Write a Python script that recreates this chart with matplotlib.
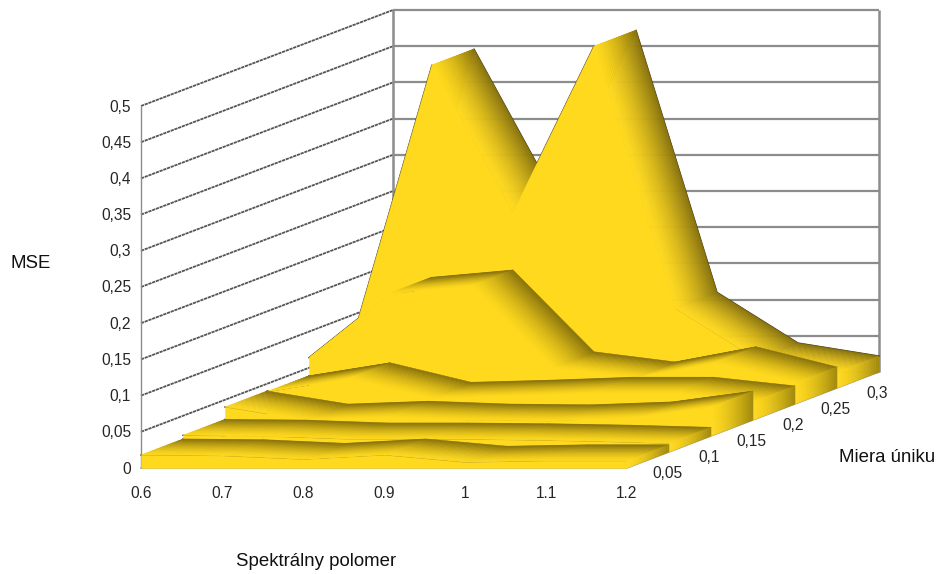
import matplotlib
matplotlib.use('Agg')
import matplotlib.pyplot as plt
from matplotlib.collections import PolyCollection
import numpy as np

plt.rcParams['font.family'] = ['Liberation Sans', 'DejaVu Sans']

spectral_radius = [0.6, 0.7, 0.8, 0.9, 1.0, 1.1, 1.2]
spectral_labels = ['0.6', '0.7', '0.8', '0.9', '1', '1.1', '1.2']
leak_labels = ['0,05', '0,1', '0,15', '0,2', '0,25', '0,3']
mse_ticks = [0, 0.05, 0.1, 0.15, 0.2, 0.25, 0.3, 0.35, 0.4, 0.45, 0.5]
mse_labels = ['0', '0,05', '0,1', '0,15', '0,2', '0,25', '0,3', '0,35', '0,4', '0,45', '0,5']

mse_005 = [0.018, 0.017, 0.012, 0.018, 0.008, 0.010, 0.010]
mse_010 = [0.023, 0.022, 0.018, 0.018, 0.017, 0.015, 0.012]
mse_015 = [0.040, 0.022, 0.026, 0.022, 0.021, 0.025, 0.040]
mse_020 = [0.039, 0.057, 0.030, 0.033, 0.037, 0.037, 0.025]
mse_025 = [0.064, 0.153, 0.163, 0.050, 0.036, 0.057, 0.029]
mse_030 = [0.060, 0.446, 0.242, 0.472, 0.110, 0.040, 0.022]
series = [mse_005, mse_010, mse_015, mse_020, mse_025, mse_030]

BRIGHT = np.array([255, 217, 30]) / 255
DARK = np.array([136, 114, 12]) / 255
END_DARK = np.array([160, 136, 14]) / 255
STRIPS = 24


def project(x, depth, z):
    # oblique projection of (spectral radius, depth 0-1, mse) to pixels
    px = 141 + 486 * (np.asarray(x, float) - 0.6) / 0.6 + 252 * np.asarray(depth, float)
    py = 468 - 724 * np.asarray(z, float) - 96 * np.asarray(depth, float)
    return np.column_stack([px, py]) if np.ndim(px) else (float(px), float(py))


def shaded_quad(ax, xa, xb, za, zb, d0, d1, dark, order):
    # strip-by-strip gradient, bright at the front edge and dark at the back
    ts = np.linspace(0, 1, STRIPS + 1)
    polys = []
    colors = []
    for a, b in zip(ts[:-1], ts[1:]):
        da = d0 + (d1 - d0) * a
        db = d0 + (d1 - d0) * b
        polys.append([project(xa, da, za), project(xb, da, zb),
                      project(xb, db, zb), project(xa, db, za)])
        colors.append(BRIGHT + (dark - BRIGHT) * ((a + b) / 2) ** 1.5)
    ax.add_collection(PolyCollection(polys, facecolors=colors, edgecolors=colors,
                                     linewidths=0.4, zorder=order))


fig = plt.figure(figsize=(9.38, 5.74), dpi=100)
ax = fig.add_axes([0, 0, 1, 1])
ax.set_xlim(0, 938)
ax.set_ylim(574, 0)
ax.axis('off')

x0, x1 = spectral_radius[0], spectral_radius[-1]

# back wall and side wall grid
for tick in mse_ticks:
    back = project([x0, x1], [1, 1], [tick, tick])
    ax.plot(back[:, 0], back[:, 1], color='#8c8c8c', lw=1.6, zorder=1, solid_capstyle='butt')
    side = project([x0, x0], [0, 1], [tick, tick])
    ax.plot(side[:, 0], side[:, 1], color='#555555', lw=1.3, ls=(0, (1.8, 0.4)), zorder=1)
for x, d, lw in [(x0, 1, 1.8), (x1, 1, 1.8), (x0, 0, 1.0)]:
    edge = project([x, x], [d, d], [0, mse_ticks[-1]])
    ax.plot(edge[:, 0], edge[:, 1], color='#8c8c8c', lw=lw, zorder=1, solid_capstyle='butt')

# floor outline
floor = project([x0, x1, x1], [0, 0, 1], [0, 0, 0])
ax.plot(floor[:, 0], floor[:, 1], color='#8c8c8c', lw=1.0, zorder=1)

n = len(series)

# thin dark outline, later fills leave it showing only against the walls
for i, values in enumerate(series):
    d0, d1 = i / n, (i + 1) / n
    for d in (d0, d1):
        line = project(spectral_radius, [d] * len(values), values)
        ax.plot(line[:, 0], line[:, 1], color='#2e2a10', lw=1.0, zorder=2)

# ribbons back to front
order = 3
for i in range(n - 1, -1, -1):
    values = series[i]
    d0, d1 = i / n, (i + 1) / n
    for j in range(len(values) - 1):
        shaded_quad(ax, spectral_radius[j], spectral_radius[j + 1],
                    values[j], values[j + 1], d0, d1, DARK, order)
        order += 1
    # closing face at the last spectral radius
    shaded_quad(ax, x1, x1, 0, values[-1], d0, d1, END_DARK, order)
    order += 1
    top = project(spectral_radius, [d0] * len(values), values)
    base = project(spectral_radius[::-1], [d0] * len(values), [0] * len(values))
    ax.add_collection(PolyCollection([np.vstack([top, base])], facecolors=[BRIGHT],
                                     edgecolors=[BRIGHT], linewidths=0.3, zorder=order))
    order += 1

# tick labels
text_color = '#262626'
for tick, label in zip(mse_ticks, mse_labels):
    px, py = project(x0, 0, tick)
    ax.text(px - 10, py + 1, label, ha='right', va='center', fontsize=11.2, color=text_color)
for x, label in zip(spectral_radius, spectral_labels):
    px, py = project(x, 0, 0)
    ax.text(px, py + 25, label, ha='center', va='center', fontsize=11.2, color=text_color)
for i, label in enumerate(leak_labels):
    px, py = project(x1, (i + 0.5) / n, 0)
    ax.text(px + 19, py + 13, label, ha='center', va='center', fontsize=11.2, color=text_color)

ax.text(31, 264, 'MSE', ha='center', va='center', fontsize=13.4, color='#111111')
ax.text(887, 457, 'Miera úniku', ha='center', va='center', fontsize=13.4, color='#111111')
ax.text(316, 561, 'Spektrálny polomer', ha='center', va='center', fontsize=13.4, color='#111111')

fig.savefig('out.png', dpi=100)
